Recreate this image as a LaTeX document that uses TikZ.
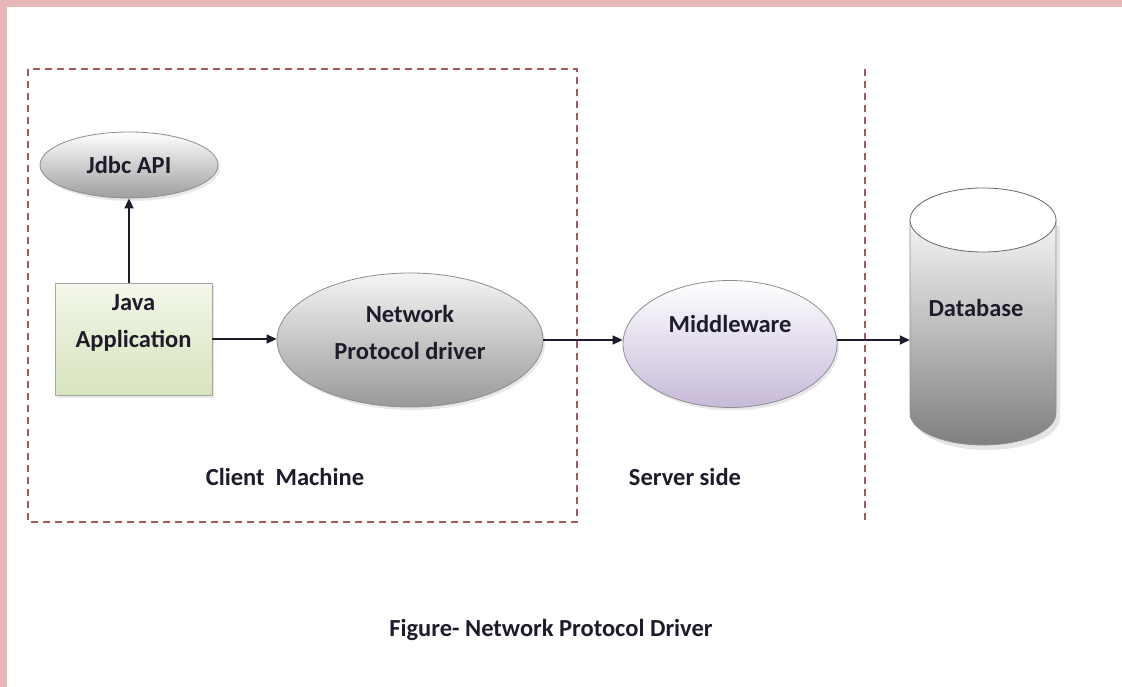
\documentclass[tikz,border=0pt]{standalone}
\usepackage{fontspec}
\setmainfont{Carlito}
\usetikzlibrary{arrows.meta,shapes.geometric,shadows}
\definecolor{frame}{HTML}{E6B9B8}
\definecolor{dashc}{HTML}{A25B5B}
\definecolor{ink}{HTML}{1E1B2A}
\definecolor{edge}{HTML}{8E8E8E}
\definecolor{lilac}{HTML}{C6B9D9}
\definecolor{greentop}{HTML}{F3F7EA}
\definecolor{greenbot}{HTML}{D7E3BC}
\tikzset{
  txt/.style={font=\bfseries\fontsize{24.5}{37}\selectfont, text=ink},
  softshadow/.style={drop shadow={opacity=0.18, shadow xshift=2pt, shadow yshift=-3pt}},
  bubble/.style={ellipse, draw=edge, line width=0.8pt, inner sep=0pt, softshadow},
  zone/.style={draw=dashc, line width=1.2pt, dash pattern=on 7pt off 5pt},
  arr/.style={draw=ink, line width=1.5pt, -{Triangle[length=10pt,width=9pt]}},
}
\begin{document}
\begin{tikzpicture}[x=1pt,y=-1pt]
  \useasboundingbox (0,0) rectangle (1122,687);
  \fill[white] (0,0) rectangle (1122,687);
  % page frame
  \fill[frame] (0,0) rectangle (1122,7);
  \fill[frame] (0,0) rectangle (7,687);

  % client zone and server boundary
  \draw[zone] (28,69) rectangle (577,522);
  \coordinate (bt) at (865,69);
  \coordinate (bb) at (865,522);
  \draw[zone] (bt) -- (bb);

  % client machine
  \node[bubble, top color=white, bottom color=black!38,
    minimum width=178pt, minimum height=66pt, txt]
    (jdbc) at (129,165) {Jdbc API};
  \node[rectangle, draw=black!35, line width=0.8pt, top color=greentop,
    bottom color=greenbot, minimum width=157pt, minimum height=112pt, softshadow]
    (app) at (133.5,339) {};
  \node[txt, align=center] at ([yshift=16pt]app.center) {Java\\Application};
  \node[bubble, top color=black!4, bottom color=black!40,
    minimum width=266pt, minimum height=134pt] (npd) at (410,340) {};
  \node[txt, align=center] at ([yshift=8pt]npd.center) {Network\\Protocol driver};

  % server side
  \node[bubble, top color=white, bottom color=lilac,
    minimum width=214pt, minimum height=127pt] (mw) at (730,344) {};
  \node[txt] at ([yshift=20pt]mw.center) {Middleware};

  % database cylinder
  \fill[black!10] (914,226) -- (914,418) arc[start angle=180, end angle=360,
    x radius=73, y radius=-32] -- (1060,226) -- cycle;
  \shade[top color=black!4, bottom color=black!50, draw=edge, line width=0.8pt]
    (910,220) -- (910,413) arc[start angle=180, end angle=360,
    x radius=73, y radius=-32] -- (1056,220) -- cycle;
  \draw[fill=white, draw=black!60, line width=0.8pt] (983,220) ellipse[x radius=73, y radius=32];
  \node[minimum width=146pt, minimum height=193pt, inner sep=0pt] (db) at (983,316.5) {};
  \node[txt] at (976,308) {Database};

  % connectors
  \draw[arr] (app.north -| jdbc.south) -- (jdbc.south);
  \draw[arr] (app.east) -- (app.east -| npd.west);
  \draw[arr] (npd.east) -- (npd.east -| mw.west);
  \draw[arr] ([yshift=4pt]mw.east) -- ([yshift=4pt]mw.east -| db.west);

  % zone captions
  \node[txt] (client) at (285,477) {Client\ \ Machine};
  \node[txt] (server) at (685,477) {Server side};
  \node[txt] (caption) at (551,630) {Figure- Network Protocol Driver};
\end{tikzpicture}
\end{document}
